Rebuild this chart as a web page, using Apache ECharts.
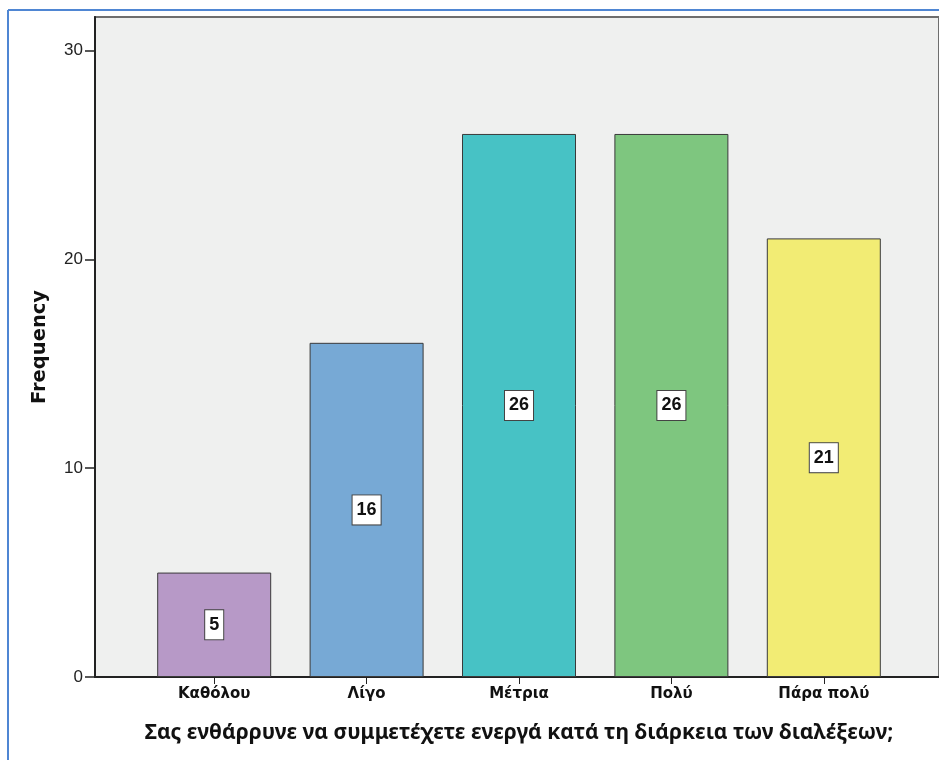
<!DOCTYPE html>
<html><head><meta charset="utf-8">
<script src="https://cdn.jsdelivr.net/npm/echarts@6/dist/echarts.min.js"></script>
<style>html,body{margin:0;padding:0;background:#fff}#c{width:939px;height:760px}</style>
</head><body><div id="c"></div>
<script>
const categories = ['Καθόλου', 'Λίγο', 'Μέτρια', 'Πολύ', 'Πάρα πολύ'];
const frequencies = [5, 16, 26, 26, 21];
const barColors = ['#b799c7', '#77a9d5', '#47c2c5', '#7ec67f', '#f2ec74'];
const yTicks = [0, 10, 20, 30];
const yTitle = 'Frequency';
const xTitle = 'Σας ενθάρρυνε να συμμετέχετε ενεργά κατά τη διάρκεια των διαλέξεων;';

const chart = echarts.init(document.getElementById('c'));
chart.setOption({
  animation: false,
  textStyle: { fontFamily: 'Liberation Sans' },
  graphic: [
    { type: 'line', shape: { x1: 8, y1: 10, x2: 8, y2: 760 }, style: { stroke: '#4f86d3', lineWidth: 2 } },
    { type: 'line', shape: { x1: 8, y1: 10, x2: 939, y2: 10 }, style: { stroke: '#4f86d3', lineWidth: 2 } }
  ],
  grid: [
    { left: 138, right: 39, top: 17, bottom: 83 },
    { left: 95, width: 900, top: 17, bottom: 83, show: true, backgroundColor: '#eff0ef', borderColor: '#6e6e6e', borderWidth: 2, z: 0 }
  ],
  xAxis: [
    {
      gridIndex: 0, type: 'category', data: categories,
      axisLine: { show: false },
      axisTick: { show: true, alignWithLabel: true, length: 7, lineStyle: { color: '#222' } },
      axisLabel: { color: '#111', fontWeight: 'bold', fontSize: 15, margin: 10, fontFamily: 'DejaVu Sans' },
      name: xTitle, nameLocation: 'middle', nameGap: 46,
      nameTextStyle: { color: '#111', fontWeight: 'bold', fontSize: 21, fontFamily: 'Noto Sans' }
    },
    {
      gridIndex: 1, type: 'value', min: 0, max: 1,
      axisLine: { show: true, lineStyle: { color: '#222', width: 2 } },
      axisTick: { show: false }, axisLabel: { show: false }, splitLine: { show: false }
    }
  ],
  yAxis: [
    {
      gridIndex: 0, type: 'value', min: 0, max: 31.6, interval: 10, offset: 43,
      axisLine: { show: true, lineStyle: { color: '#222', width: 2 } },
      axisTick: { show: true, length: 10, customValues: yTicks, lineStyle: { color: '#222', width: 1.5 } },
      axisLabel: { color: '#222', fontSize: 17, margin: 12, customValues: yTicks },
      splitLine: { show: false },
      name: yTitle, nameLocation: 'middle', nameGap: 45,
      nameTextStyle: { color: '#111', fontWeight: 'bold', fontSize: 19.5, fontFamily: 'DejaVu Sans' }
    },
    {
      gridIndex: 1, type: 'value', min: 0, max: 1, show: false
    }
  ],
  series: [{
    type: 'bar', xAxisIndex: 0, yAxisIndex: 0, z: 5,
    barWidth: 114,
    data: frequencies.map((v, i) => ({ value: v, itemStyle: { color: barColors[i] } })),
    itemStyle: { borderColor: '#3a3a3a', borderWidth: 1 },
    label: {
      show: true, position: 'inside', color: '#111', fontWeight: 'bold', fontSize: 18,
      backgroundColor: '#fff', borderColor: '#444', borderWidth: 1, padding: [6, 4, 5, 4]
    }
  }]
});
</script></body></html>
